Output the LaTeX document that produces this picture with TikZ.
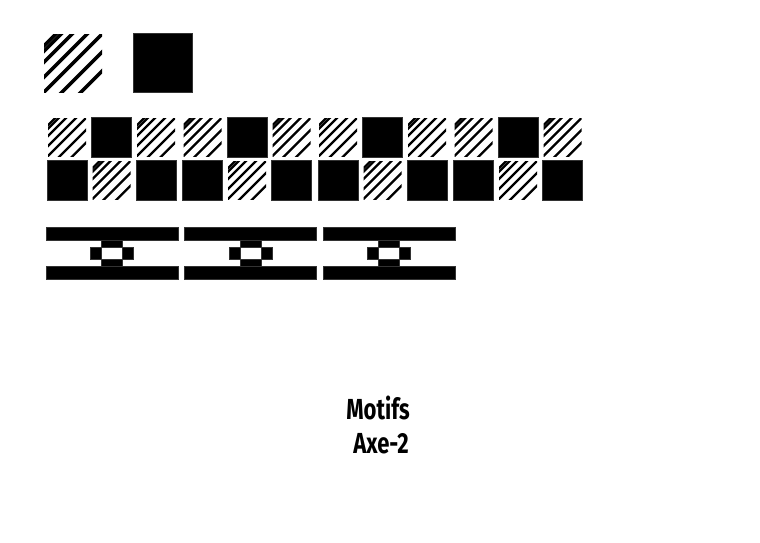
\documentclass[tikz,border=0pt]{standalone}
\usepackage{fontspec}
\setmainfont{Fira Sans}
\begin{document}
\begin{tikzpicture}[x=1pt,y=-1pt,
  blk/.style={fill=black,draw=black!80,line width=0.6pt},
  hl/.style={line width=#1,black,line cap=round},
  lbl/.style={font=\bfseries\fontsize{29}{32}\selectfont,xscale=0.76,inner sep=0pt}]
\useasboundingbox (0,0) rectangle (760,542);
\newcommand\hsq[3]{% x y size
  \begin{scope}
    \clip ({#1+1},{#2+1}) rectangle ++({#3-2},{#3-2});
    \foreach \f in {0.23,0.32,0.5,0.75,1.0,1.3,1.62}{
      \pgfmathsetmacro\r{#3*\f}
      \draw[hl={#3/17}] ({#1+\r+#3},{#2-#3}) -- ({#1+\r-3*#3},{#2+3*#3});
    }
  \end{scope}}
\newcommand\bsq[3]{\fill[blk] (#1,#2) rectangle ++(#3,#3);}
% top pair
\hsq{43}{33}{60}
\bsq{133}{33}{59}
% checker rows
\foreach \g in {0,1,2,3}{
  \pgfmathsetmacro\gx{47+135.5*\g}
  \hsq{\gx}{117}{40}
  \bsq{\gx+44.5}{117}{40}
  \hsq{\gx+89}{117}{40}
  \bsq{\gx}{160}{40}
  \hsq{\gx+44.5}{160}{40}
  \bsq{\gx+89}{160}{40}
}
% beam motifs
\foreach \g in {0,1,2}{
  \pgfmathsetmacro\bx{46+138.5*\g}
  \fill[blk] (\bx,227) rectangle ++(132,13);
  \fill[blk] (\bx,266) rectangle ++(132,13);
  \fill[blk] (\bx+55.5,240) rectangle ++(21,7);
  \fill[blk] (\bx+55.5,259) rectangle ++(21,7);
  \fill[blk] (\bx+44.5,247) rectangle ++(11,12);
  \fill[blk] (\bx+76.5,247) rectangle ++(11,12);
}
\node[lbl] (t1) at (378,408) {Motifs};
\node[lbl] (t2) at (381,444) {Axe-2};
\end{tikzpicture}
\end{document}
